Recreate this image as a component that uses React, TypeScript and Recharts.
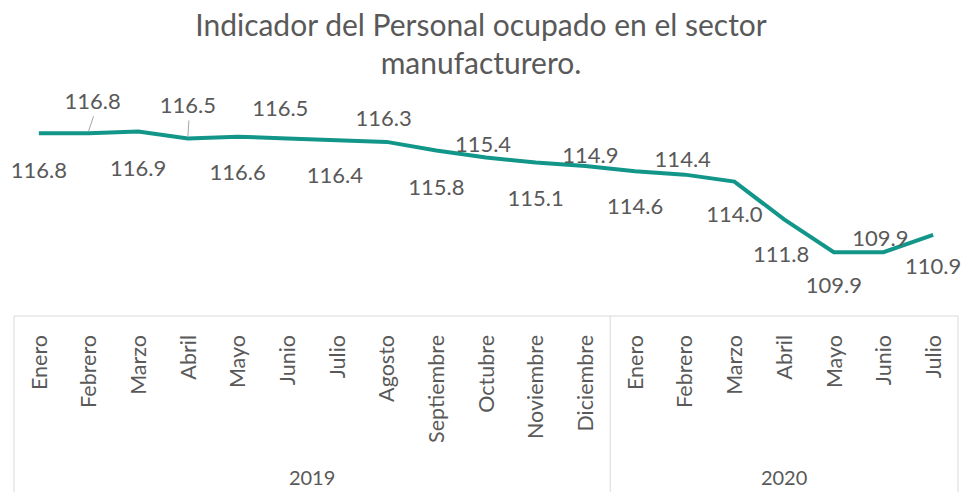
import { LineChart, Line, XAxis, YAxis, LabelList } from 'recharts';

const months = [
  'Enero', 'Febrero', 'Marzo', 'Abril', 'Mayo', 'Junio', 'Julio', 'Agosto',
  'Septiembre', 'Octubre', 'Noviembre', 'Diciembre',
  'Enero', 'Febrero', 'Marzo', 'Abril', 'Mayo', 'Junio', 'Julio',
];
const years = [
  '2019', '2019', '2019', '2019', '2019', '2019', '2019', '2019', '2019', '2019', '2019', '2019',
  '2020', '2020', '2020', '2020', '2020', '2020', '2020',
];
const personal = [
  116.8, 116.8, 116.9, 116.5, 116.6, 116.5, 116.4, 116.3, 115.8, 115.4, 115.1, 114.9,
  114.6, 114.4, 114.0, 111.8, 109.9, 109.9, 110.9,
];

// label placement (hand-moved labels in the original)
const labelDx = [0, 4, 0, 0, 0, -7, -2, -3, 0, -3, 0, 5, 0, -2, 0, -3, 0, -3, 0];
const labelDy = [37, -32, 37, -33, 36, -30, 35, -24, 37, -13, 36, -11, 35, -15, 33, 35, 33, -14, 31];
const leaders = [1, 3];

const data = months.map((m, i) => ({ key: `${years[i]}-${i}`, month: m, year: years[i], value: personal[i] }));

const W = 962;
const H = 492;
const AXIS_H = 176;
const M = { top: 85, right: 4, bottom: 0, left: 14 };
const band = (W - M.left - M.right) / data.length;
const axisY = H - AXIS_H;
const TEXT = '#595959';
const GRID = '#d9d9d9';
const FONT = 'Lato, "Open Sans", sans-serif';

const groups = years.reduce<{ year: string; start: number; count: number }[]>((acc, y, i) => {
  const last = acc[acc.length - 1];
  if (last && last.year === y) last.count += 1;
  else acc.push({ year: y, start: i, count: 1 });
  return acc;
}, []);

const MonthTick = ({ x, index }: any) => {
  const month = data[index]?.month;
  const left = x - band / 2;
  const group = groups.find(g => g.start === index);
  const isGroupEnd = groups.some(g => g.start + g.count - 1 === index);
  return (
    <g>
      {index === 0 && <line x1={left} y1={axisY} x2={left} y2={H} stroke={GRID} />}
      {isGroupEnd && <line x1={left + band} y1={axisY} x2={left + band} y2={H} stroke={GRID} />}
      <g transform={`translate(${x},${axisY + 19}) rotate(-90)`}>
        <text x={0} y={0} dy="0.36em" textAnchor="end" fill={TEXT} fontSize={21.5} fontFamily={FONT}>
          {month}
        </text>
      </g>
      {group && (
        <text
          x={left + (group.count * band) / 2}
          y={478}
          dy="0.35em"
          textAnchor="middle"
          fill={TEXT}
          fontSize={20}
          fontFamily={FONT}
        >
          {group.year}
        </text>
      )}
    </g>
  );
};

const renderLabel = ({ x, y, value, index }: any) => {
  const tx = x + labelDx[index];
  const ty = y + labelDy[index];
  return (
    <g>
      {leaders.includes(index) && (
        <line x1={x} y1={y - 2} x2={tx + 1} y2={ty + 15} stroke="#a6a6a6" strokeWidth={1} />
      )}
      <text x={tx} y={ty} dy="0.35em" textAnchor="middle" fill={TEXT} fontSize={22} fontFamily={FONT}>
        {Number(value).toFixed(1)}
      </text>
    </g>
  );
};

export default function App() {
  return (
    <div style={{ position: 'relative', width: W, height: H, background: '#fff', fontFamily: FONT }}>
      <style>{'body{margin:0}'}</style>
      <div
        style={{
          position: 'absolute',
          top: 5,
          left: 0,
          width: W,
          textAlign: 'center',
          fontSize: 30,
          lineHeight: '38px',
          color: TEXT,
        }}
      >
        Indicador del Personal ocupado en el sector
        <br />
        manufacturero.
      </div>
      <LineChart width={W} height={H} data={data} margin={M}>
        <XAxis
          dataKey="key"
          interval={0}
          tickLine={false}
          axisLine={{ stroke: GRID }}
          tick={<MonthTick />}
          height={AXIS_H}
          padding={{ left: band / 2, right: band / 2 }}
        />
        <YAxis hide domain={[106.2, 119.6]} />
        <Line
          type="linear"
          dataKey="value"
          stroke="#13968A"
          strokeWidth={4}
          dot={false}
          isAnimationActive={false}
        >
          <LabelList dataKey="value" content={renderLabel} />
        </Line>
      </LineChart>
    </div>
  );
}
